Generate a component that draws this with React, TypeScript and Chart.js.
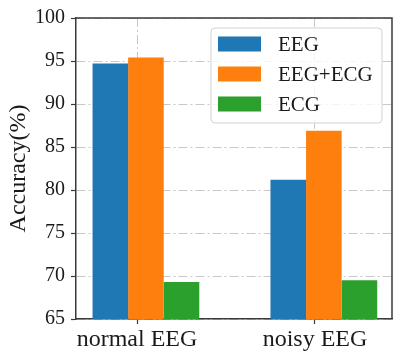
import React, { useEffect, useRef } from 'react';
import { Chart, registerables } from 'chart.js';

Chart.register(...registerables);

// ---- data ----
const CATEGORIES = ['normal EEG', 'noisy EEG'];
const SERIES_NAMES = ['EEG', 'EEG+ECG', 'ECG'];
const EEG_VALUES = [94.7, 81.2];
const EEG_ECG_VALUES = [95.4, 86.9];
const ECG_VALUES = [69.3, 69.5];
const Y_MIN = 65;
const Y_MAX = 100;
const Y_STEP = 5;

// ---- styling ----
const COLORS = ['#1f77b4', '#ff7f0e', '#2ca02c'];
const GROUP_OFFSET = 0.05;
const X_MIN = -0.343;
const X_MAX = 1.433;
const FONT = "'Liberation Serif', 'Times New Roman', serif";
const TEXT = '#1a1a1a';
const SPINE = '#3a3a3a';
const GRID = '#c8c8c8';

const frameAndLegend = {
  id: 'frameAndLegend',
  afterDraw(chart: any) {
    const { ctx, chartArea } = chart;
    ctx.save();
    // top and right spines
    ctx.strokeStyle = SPINE;
    ctx.lineWidth = 1.5;
    ctx.setLineDash([]);
    ctx.beginPath();
    ctx.moveTo(chartArea.left, chartArea.top);
    ctx.lineTo(chartArea.right, chartArea.top);
    ctx.lineTo(chartArea.right, chartArea.bottom);
    ctx.stroke();

    // legend box
    const w = 171;
    const h = 95;
    const x = chartArea.right - 10 - w;
    const y = chartArea.top + 10;
    const r = 4;
    ctx.beginPath();
    ctx.moveTo(x + r, y);
    ctx.lineTo(x + w - r, y);
    ctx.arcTo(x + w, y, x + w, y + r, r);
    ctx.lineTo(x + w, y + h - r);
    ctx.arcTo(x + w, y + h, x + w - r, y + h, r);
    ctx.lineTo(x + r, y + h);
    ctx.arcTo(x, y + h, x, y + h - r, r);
    ctx.lineTo(x, y + r);
    ctx.arcTo(x, y, x + r, y, r);
    ctx.closePath();
    ctx.fillStyle = 'rgba(255,255,255,0.8)';
    ctx.fill();
    ctx.strokeStyle = '#d2d2d2';
    ctx.lineWidth = 1;
    ctx.stroke();

    ctx.font = `21px ${FONT}`;
    ctx.textBaseline = 'middle';
    ctx.textAlign = 'left';
    chart.data.datasets.forEach((ds: any, i: number) => {
      const cy = y + 16 + i * 30;
      ctx.fillStyle = ds.backgroundColor;
      ctx.fillRect(x + 7, cy - 7.5, 43, 15);
      ctx.fillStyle = TEXT;
      ctx.fillText(ds.label, x + 67, cy + 1);
    });
    ctx.restore();
  },
};

export default function App() {
  const canvasRef = useRef<HTMLCanvasElement>(null);

  useEffect(() => {
    document.body.style.margin = '0';
    const seriesValues = [EEG_VALUES, EEG_ECG_VALUES, ECG_VALUES];
    const chart = new Chart(canvasRef.current as HTMLCanvasElement, {
      type: 'bar',
      data: {
        datasets: SERIES_NAMES.map((name, si) => ({
          label: name,
          data: CATEGORIES.map((_, ci) => ({ x: ci + GROUP_OFFSET, y: seriesValues[si][ci] })),
          backgroundColor: COLORS[si],
          borderWidth: 0,
          categoryPercentage: 0.6,
          barPercentage: 1.0,
        })),
      },
      options: {
        animation: false,
        responsive: true,
        maintainAspectRatio: false,
        layout: { padding: { left: 0, right: 16, top: 13, bottom: 0 } },
        plugins: {
          legend: { display: false },
          tooltip: { enabled: false },
        },
        scales: {
          x: {
            type: 'linear',
            min: X_MIN,
            max: X_MAX,
            bounds: 'data',
            offset: false,
            z: 1,
            afterBuildTicks: (scale: any) => {
              scale.ticks = CATEGORIES.map((_, i) => ({ value: i }));
            },
            afterFit: (scale: any) => {
              scale.height = 37;
            },
            ticks: {
              callback: (_v: any, i: number) => CATEGORIES[i],
              font: { family: FONT, size: 24 },
              color: TEXT,
              padding: 1,
              maxRotation: 0,
              autoSkip: false,
            },
            grid: {
              offset: false,
              color: GRID,
              lineWidth: 1,
              drawTicks: true,
              tickLength: 5,
              tickColor: SPINE,
              tickWidth: 1.2,
              tickBorderDash: [],
            },
            border: { display: true, color: SPINE, width: 1.5, dash: [9, 3, 2, 3] },
          },
          y: {
            min: Y_MIN,
            max: Y_MAX,
            z: 1,
            afterFit: (scale: any) => {
              scale.width = 76;
            },
            ticks: {
              stepSize: Y_STEP,
              font: { family: FONT, size: 20 },
              color: TEXT,
              padding: 6,
            },
            grid: {
              color: GRID,
              lineWidth: 1,
              drawTicks: true,
              tickLength: 5,
              tickColor: SPINE,
              tickWidth: 1.2,
              tickBorderDash: [],
            },
            border: { display: true, color: SPINE, width: 1.5, dash: [9, 3, 2, 3] },
            title: {
              display: true,
              text: 'Accuracy(%)',
              font: { family: FONT, size: 24 },
              color: TEXT,
              padding: { top: 4, bottom: 0 },
            },
          },
        },
      },
      plugins: [frameAndLegend],
    } as any);
    return () => chart.destroy();
  }, []);

  return (
    <div style={{ position: 'absolute', left: 0, top: 0, width: 408, height: 356 }}>
      <canvas ref={canvasRef} />
    </div>
  );
}
